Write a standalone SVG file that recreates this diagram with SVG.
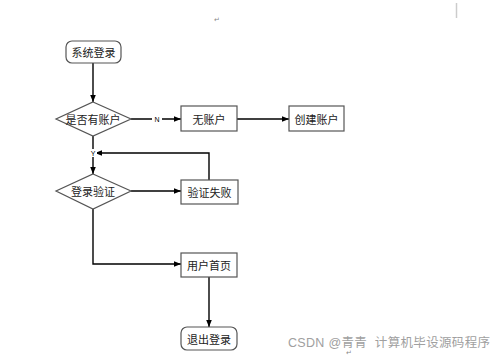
<svg xmlns="http://www.w3.org/2000/svg" width="499" height="356" viewBox="0 0 499 356">
<defs>
<marker id="ah" viewBox="0 0 10 10" refX="10" refY="5" markerWidth="7" markerHeight="7" orient="auto" markerUnits="userSpaceOnUse">
<path d="M0,1 L10,5 L0,9 Z" fill="#000"/>
</marker>
<style>
.n{fill:#fff;stroke:#555;stroke-width:1.2}
.t{font-family:"Noto Sans CJK SC","Liberation Sans",sans-serif;font-size:11px;fill:#222;text-anchor:middle;dominant-baseline:central}
.c{fill:none;stroke:#000;stroke-width:1.4}
.s{font-family:"Liberation Sans",sans-serif;font-size:7px;fill:#000;text-anchor:middle;dominant-baseline:central}
</style>
</defs>
<rect width="499" height="356" fill="#fff"/>
<text x="217" y="22" font-family="DejaVu Sans,sans-serif" font-size="7" fill="#888" text-anchor="middle">↵</text>
<line x1="456.5" y1="3" x2="456.5" y2="18" stroke="#ccc" stroke-width="1.5"/>
<g id="connectors">
<line class="c" x1="93" y1="63" x2="93" y2="102" marker-end="url(#ah)"/>
<line class="c" x1="131" y1="119" x2="181" y2="119" marker-end="url(#ah)"/>
<line class="c" x1="237" y1="119" x2="289" y2="119" marker-end="url(#ah)"/>
<line class="c" x1="93" y1="136" x2="93" y2="174" marker-end="url(#ah)"/>
<polyline class="c" points="209,180 209,153 95,153" marker-end="url(#ah)"/>
<line class="c" x1="131" y1="191" x2="181" y2="191" marker-end="url(#ah)"/>
<polyline class="c" points="93,209 93,264 181,264" marker-end="url(#ah)"/>
<line class="c" x1="209" y1="277" x2="209" y2="327" marker-end="url(#ah)"/>
<rect x="152" y="115" width="10" height="8" fill="#fff"/>
<text class="s" x="157" y="119">N</text>
<rect x="89" y="149" width="8" height="8" fill="#fff"/>
<text class="s" x="93" y="153">Y</text>
</g>
<g id="login">
<rect class="n" x="66" y="41" width="55" height="22" rx="6"/>
<text class="t" x="93.5" y="52">系统登录</text>
</g>
<g id="hasAccount">
<polygon class="n" points="93,102 131,119 93,136 56,119"/>
<text class="t" x="93" y="119">是否有账户</text>
</g>
<g id="noAccount">
<rect class="n" x="181" y="106" width="56" height="25"/>
<text class="t" x="209" y="118.5">无账户</text>
</g>
<g id="createAccount">
<rect class="n" x="289" y="106" width="55" height="25"/>
<text class="t" x="316.5" y="118.5">创建账户</text>
</g>
<g id="verify">
<polygon class="n" points="93,174 131,191 93,209 56,191"/>
<text class="t" x="93" y="191">登录验证</text>
</g>
<g id="verifyFail">
<rect class="n" x="181" y="180" width="57" height="24"/>
<text class="t" x="209.5" y="192">验证失败</text>
</g>
<g id="home">
<rect class="n" x="181" y="253" width="56" height="24"/>
<text class="t" x="209" y="265">用户首页</text>
</g>
<g id="logout">
<rect class="n" x="181" y="327" width="56" height="23" rx="6"/>
<text class="t" x="209" y="338.5">退出登录</text>
</g>
<text x="288" y="347" xml:space="preserve" font-family="Liberation Sans,'Noto Sans CJK SC',sans-serif" font-size="12.5" fill="#a0a0a0" textLength="202" lengthAdjust="spacing">CSDN @青青  计算机毕设源码程序</text>
<text x="349" y="355" font-family="DejaVu Sans,sans-serif" font-size="7" fill="#888" text-anchor="middle">↵</text>
</svg>
